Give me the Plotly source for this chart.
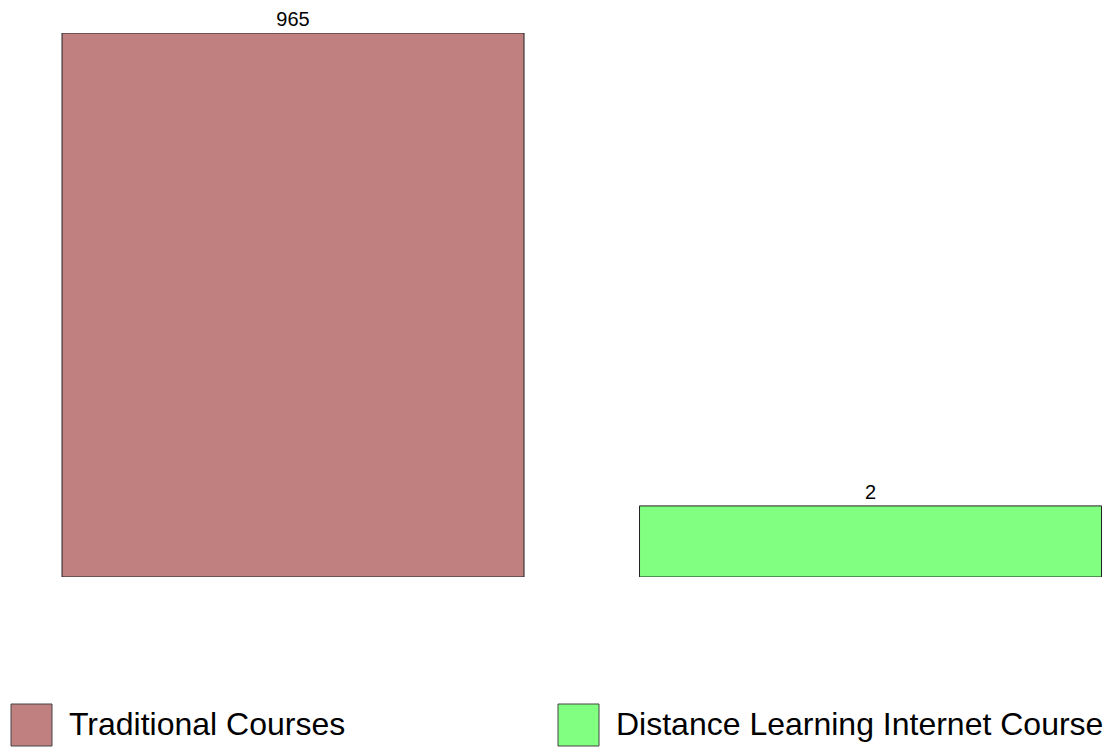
import math
import plotly.graph_objects as go

# ---- data ----
categories = ["Traditional Courses", "Distance Learning Internet Course"]
values = [965, 2]
bar_colors = ["#C08080", "#80FF80"]
value_labels = ["965", "2"]

# ---- layout settings ----
W, H = 1107, 747
M_L, M_R, M_T, M_B = 0, 0, 33, 170
Y_LOW = 0.79  # bottom of the log value axis
X_RANGE = [-0.5074, 1.4095]
FONT = "Liberation Sans, Arial, sans-serif"

x_pos = list(range(len(categories)))

fig = go.Figure()
fig.add_trace(go.Bar(
    x=x_pos,
    y=[v - Y_LOW for v in values],
    base=[Y_LOW] * len(values),
    width=0.8,
    marker=dict(color=bar_colors, line=dict(color="#222222", width=1)),
    text=value_labels,
    textposition="outside",
    textfont=dict(family=FONT, size=20, color="#000000"),
    cliponaxis=False,
    showlegend=False,
    hoverinfo="skip",
))

fig.update_layout(
    width=W, height=H,
    margin=dict(l=M_L, r=M_R, t=M_T, b=M_B, pad=0),
    paper_bgcolor="white",
    plot_bgcolor="white",
    font=dict(family=FONT, color="#000000"),
    xaxis=dict(range=X_RANGE, visible=False, fixedrange=True),
    yaxis=dict(type="log",
               range=[math.log10(Y_LOW), math.log10(max(values))],
               visible=False, fixedrange=True),
)

# ---- legend drawn as shapes + text (bottom row) ----
plot_h = H - M_T - M_B
def py(pix):
    return (H - M_B - pix) / plot_h

legend_x = [11, 558]
for i, (cat, col) in enumerate(zip(categories, bar_colors)):
    x0 = legend_x[i]
    fig.add_shape(type="rect", xref="paper", yref="paper",
                  x0=x0 / W, x1=(x0 + 41) / W, y0=py(746), y1=py(704),
                  fillcolor=col, line=dict(color="#444444", width=1))
    fig.add_annotation(xref="paper", yref="paper",
                       x=(x0 + 56) / W, y=py(724),
                       xanchor="left", yanchor="middle",
                       text=cat, showarrow=False,
                       font=dict(family=FONT, size=32, color="#000000"))

fig.write_html("out.html",
               config={"displayModeBar": False},
               post_script="document.body.style.margin='0';document.body.style.overflow='hidden';")
